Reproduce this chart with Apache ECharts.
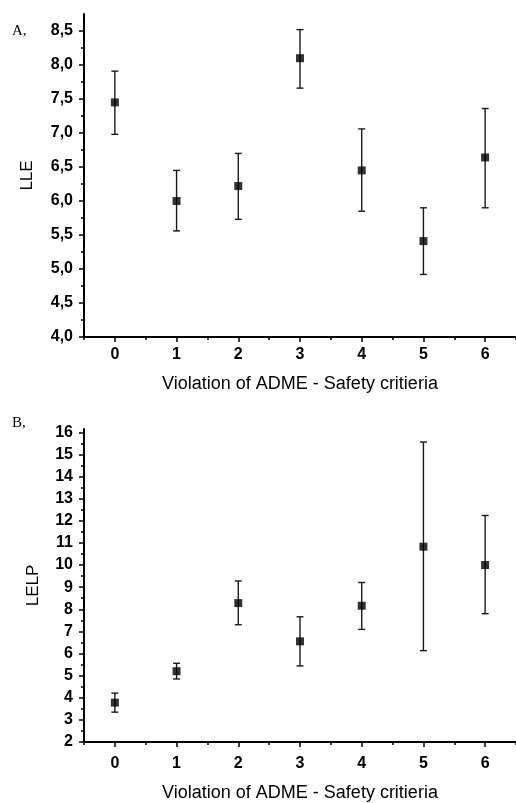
<!DOCTYPE html>
<html><head><meta charset="utf-8">
<script src="https://cdn.jsdelivr.net/npm/echarts@6/dist/echarts.min.js"></script>
<style>html,body{margin:0;padding:0;background:#fff}#c{width:516px;height:803px}</style>
</head><body><div id="c"></div>
<script>
// ---- data ----
const categories = [0, 1, 2, 3, 4, 5, 6];
const lleMean = [7.45, 6.00, 6.22, 8.10, 6.45, 5.41, 6.64];
const lleLow  = [6.98, 5.56, 5.73, 7.66, 5.85, 4.92, 5.90];
const lleHigh = [7.91, 6.45, 6.70, 8.52, 7.06, 5.90, 7.36];
const lelpMean = [3.78, 5.20, 8.28, 6.55, 8.16, 10.83, 10.00];
const lelpLow  = [3.35, 4.85, 7.30, 5.44, 7.09, 6.13, 7.80];
const lelpHigh = [4.21, 5.56, 9.28, 7.66, 9.21, 15.56, 12.24];
const lleTicks = [4.0, 4.5, 5.0, 5.5, 6.0, 6.5, 7.0, 7.5, 8.0, 8.5];
const lleMinor = [4.25, 4.75, 5.25, 5.75, 6.25, 6.75, 7.25, 7.75, 8.25];
const lelpTicks = [2, 3, 4, 5, 6, 7, 8, 9, 10, 11, 12, 13, 14, 15, 16];
const lelpMinor = [2.5, 3.5, 4.5, 5.5, 6.5, 7.5, 8.5, 9.5, 10.5, 11.5, 12.5, 13.5, 14.5, 15.5];
const xTicks = [0, 1, 2, 3, 4, 5, 6];
const xMinor = [-0.5, 0.5, 1.5, 2.5, 3.5, 4.5, 5.5, 6.5];
const xTitle = 'Violation of ADME - Safety critieria';

// ---- chart ----
const FONT = 'Liberation Sans, Arial, sans-serif';
const chart = echarts.init(document.getElementById('c'), null, {renderer: 'canvas'});

function errRender(params, api) {
  const x = api.value(0), lo = api.value(1), hi = api.value(2);
  const a = api.coord([x, lo]), b = api.coord([x, hi]);
  const w = 3.5;
  const style = {stroke: '#1a1a1a', lineWidth: 1.4};
  return {type: 'group', children: [
    {type: 'line', shape: {x1: a[0], y1: a[1], x2: b[0], y2: b[1]}, style},
    {type: 'line', shape: {x1: a[0] - w, y1: a[1], x2: a[0] + w, y2: a[1]}, style},
    {type: 'line', shape: {x1: b[0] - w, y1: b[1], x2: b[0] + w, y2: b[1]}, style}
  ]};
}

function mainX(grid, margin, gap) {
  return {
    gridIndex: grid, type: 'value', position: 'bottom', min: -0.5, max: 6.5,
    name: xTitle, nameLocation: 'middle', nameGap: gap,
    nameTextStyle: {fontFamily: FONT, fontSize: 18, color: '#000'},
    axisLine: {show: true, onZero: false, lineStyle: {color: '#000', width: 2}},
    axisTick: {show: true, inside: false, length: 5, customValues: xTicks, lineStyle: {color: '#000', width: 1.5}},
    axisLabel: {show: true, margin: margin, customValues: xTicks, fontFamily: FONT, fontSize: 16, fontWeight: 'bold', color: '#000'},
    splitLine: {show: false}
  };
}
function minorX(grid) {
  return {
    gridIndex: grid, type: 'value', position: 'bottom', min: -0.5, max: 6.5,
    axisLine: {show: false, onZero: false},
    axisTick: {show: true, inside: false, length: 3, customValues: xMinor, lineStyle: {color: '#000', width: 1.5}},
    axisLabel: {show: false}, splitLine: {show: false}
  };
}
function mainY(grid, min, max, ticks, name, gap, fmt) {
  return {
    gridIndex: grid, type: 'value', position: 'left', min: min, max: max,
    name: name, nameLocation: 'middle', nameGap: gap,
    nameTextStyle: {fontFamily: FONT, fontSize: 17, color: '#000'},
    axisLine: {show: true, onZero: false, lineStyle: {color: '#000', width: 2}},
    axisTick: {show: true, inside: false, length: 5, customValues: ticks, lineStyle: {color: '#000', width: 1.5}},
    axisLabel: {show: true, margin: 11, customValues: ticks, formatter: fmt, fontFamily: FONT, fontSize: 16, fontWeight: 'bold', color: '#000'},
    splitLine: {show: false}
  };
}
function minorY(grid, min, max, ticks) {
  return {
    gridIndex: grid, type: 'value', position: 'left', min: min, max: max,
    axisLine: {show: false, onZero: false},
    axisTick: {show: true, inside: false, length: 3, customValues: ticks, lineStyle: {color: '#000', width: 1.5}},
    axisLabel: {show: false}, splitLine: {show: false}
  };
}

const lleErr = categories.map((c, i) => [c, lleLow[i], lleHigh[i]]);
const lelpErr = categories.map((c, i) => [c, lelpLow[i], lelpHigh[i]]);
const lleVals = categories.map((c, i) => [c, lleMean[i]]);
const lelpVals = categories.map((c, i) => [c, lelpMean[i]]);

chart.setOption({
  animation: false,
  backgroundColor: '#fff',
  grid: [
    {left: 84, top: 14, width: 438, height: 323},
    {left: 84, top: 429, width: 438, height: 314}
  ],
  xAxis: [mainX(0, 10, 38), minorX(0), mainX(1, 14, 42), minorX(1)],
  yAxis: [
    mainY(0, 4, 8.75, lleTicks, 'LLE', 48, v => v.toFixed(1).replace('.', ',')),
    minorY(0, 4, 8.75, lleMinor),
    mainY(1, 2, 16.15, lelpTicks, 'LELP', 42, v => String(v)),
    minorY(1, 2, 16.15, lelpMinor)
  ],
  graphic: [
    {type: 'text', left: 12, top: 24, style: {text: 'A,', font: '15px "Liberation Serif", serif', fill: '#000'}},
    {type: 'text', left: 12, top: 416, style: {text: 'B,', font: '15px "Liberation Serif", serif', fill: '#000'}}
  ],
  series: [
    {type: 'custom', xAxisIndex: 0, yAxisIndex: 0, renderItem: errRender, encode: {x: 0, y: [1, 2]}, data: lleErr, z: 2},
    {type: 'scatter', xAxisIndex: 0, yAxisIndex: 0, symbol: 'rect', symbolSize: 8, itemStyle: {color: '#000'}, data: lleVals, z: 3},
    {type: 'custom', xAxisIndex: 2, yAxisIndex: 2, renderItem: errRender, encode: {x: 0, y: [1, 2]}, data: lelpErr, z: 2},
    {type: 'scatter', xAxisIndex: 2, yAxisIndex: 2, symbol: 'rect', symbolSize: 8, itemStyle: {color: '#000'}, data: lelpVals, z: 3}
  ]
});
</script>
</body></html>
